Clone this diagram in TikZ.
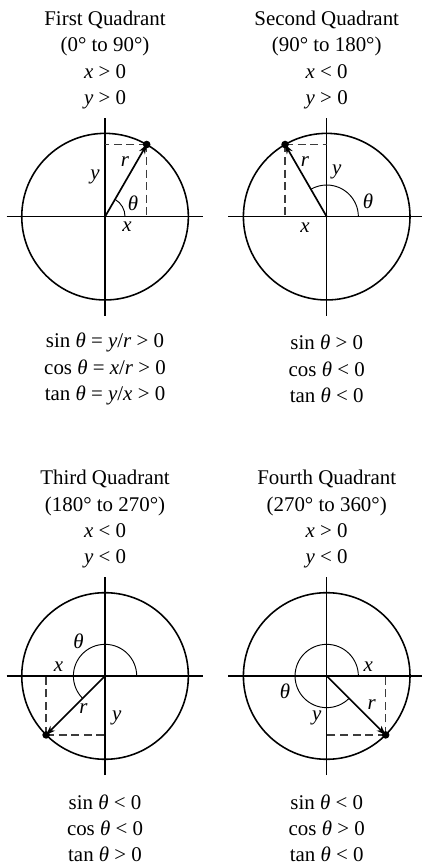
\documentclass[tikz,border=0pt]{standalone}
\usepackage{fontspec}
\setmainfont{Liberation Serif}
\usetikzlibrary{arrows.meta,calc}
\definecolor{grisGuia}{HTML}{3C3C3C}

\tikzset{
  eje/.style={line width=0.75pt},
  circulo/.style={line width=0.75pt},
  arco/.style={line width=0.45pt},
  guia/.style={grisGuia,line width=0.7pt,dash pattern=on 3.8pt off 2.2pt},
  radio/.style={line width=0.8pt,-{Stealth[length=4.5pt,width=3.2pt]}},
  texto/.style={align=center,inner sep=0pt,font=\fontsize{10}{12.6}\selectfont},
  etiq/.style={inner sep=0pt,font=\fontsize{10}{12}\selectfont\itshape}
}

\begin{document}
\begin{tikzpicture}[scale=1.4,>=Stealth]
  \useasboundingbox (0,0) rectangle (5.054,-10.372);
  % primer cuadrante
  \begin{scope}[shift={(1.261,-2.601)}]
    \coordinate (O1) at (0,0);
    \coordinate (P1) at (60:1);
    \draw[circulo] (O1) circle (1);
    \draw[eje] (-1.18,0) -- (1.18,0);
    \draw[eje] (0,-1.19) -- (0,1.19);
    \draw[guia] (P1) -- (P1 |- O1);
    \draw[guia] (P1) -- (O1 |- P1);
    \draw[arco] (0.24,0) arc (0:60:0.24);
    \draw[radio] (O1) -- (P1);
    \fill (P1) circle (1.3pt);
    \node[etiq] (th1) at (0.336,0.164) {θ};
    \node[etiq] (r1) at (0.24,0.657) {r};
    \node[etiq] (y1) at (-0.12,0.477) {y};
    \node[etiq] (x1) at (0.264,-0.124) {x};
    \node[texto] (t1) at (0,1.88)
      {First Quadrant\\(0° to 90°)\\\textit{x} > 0\\\textit{y} > 0};
    \node[texto] (f1) at (0,-1.829)
      {sin \textit{θ} = \textit{y}/\textit{r} > 0\\cos \textit{θ} = \textit{x}/\textit{r} > 0\\tan \textit{θ} = \textit{y}/\textit{x} > 0};
  \end{scope}
  % segundo cuadrante
  \begin{scope}[shift={(3.922,-2.601)}]
    \coordinate (O2) at (0,0);
    \coordinate (P2) at (120:1);
    \draw[circulo] (O2) circle (1);
    \draw[eje] (-1.18,0) -- (1.18,0);
    \draw[eje] (0,-1.19) -- (0,1.19);
    \draw[guia] (P2) -- (P2 |- O2);
    \draw[guia] (P2) -- (O2 |- P2);
    \draw[arco] (0.38,0) arc (0:120:0.38);
    \draw[radio] (O2) -- (P2);
    \fill (P2) circle (1.3pt);
    \node[etiq] (th2) at (0.496,0.18) {θ};
    \node[etiq] (r2) at (-0.26,0.657) {r};
    \node[etiq] (y2) at (0.12,0.54) {y};
    \node[etiq] (x2) at (-0.26,-0.136) {x};
    \node[texto] (t2) at (0,1.88)
      {Second Quadrant\\(90° to 180°)\\\textit{x} < 0\\\textit{y} > 0};
    \node[texto] (f2) at (0,-1.829)
      {sin \textit{θ} > 0\\cos \textit{θ} < 0\\tan \textit{θ} < 0};
  \end{scope}
  % tercer cuadrante
  \begin{scope}[shift={(1.261,-8.115)}]
    \coordinate (O3) at (0,0);
    \coordinate (P3) at (225:1);
    \draw[circulo] (O3) circle (1);
    \draw[eje] (-1.18,0) -- (1.18,0);
    \draw[eje] (0,-1.19) -- (0,1.19);
    \draw[guia] (P3) -- (P3 |- O3);
    \draw[guia] (P3) -- (O3 |- P3);
    \draw[arco] (0.38,0) arc (0:225:0.38);
    \draw[radio] (O3) -- (P3);
    \fill (P3) circle (1.3pt);
    \node[etiq] (th3) at (-0.32,0.412) {θ};
    \node[etiq] (r3) at (-0.26,-0.388) {r};
    \node[etiq] (y3) at (0.14,-0.508) {y};
    \node[etiq] (x3) at (-0.56,0.112) {x};
    \node[texto] (t3) at (0,1.88)
      {Third Quadrant\\(180° to 270°)\\\textit{x} < 0\\\textit{y} < 0};
    \node[texto] (f3) at (0,-1.829)
      {sin \textit{θ} < 0\\cos \textit{θ} < 0\\tan \textit{θ} > 0};
  \end{scope}
  % cuarto cuadrante
  \begin{scope}[shift={(3.922,-8.115)}]
    \coordinate (O4) at (0,0);
    \coordinate (P4) at (315:1);
    \draw[circulo] (O4) circle (1);
    \draw[eje] (-1.18,0) -- (1.18,0);
    \draw[eje] (0,-1.19) -- (0,1.19);
    \draw[guia] (P4) -- (P4 |- O4);
    \draw[guia] (P4) -- (O4 |- P4);
    \draw[arco] (0.38,0) arc (0:315:0.38);
    \draw[radio] (O4) -- (P4);
    \fill (P4) circle (1.3pt);
    \node[etiq] (th4) at (-0.5,-0.188) {θ};
    \node[etiq] (r4) at (0.54,-0.348) {r};
    \node[etiq] (y4) at (-0.12,-0.508) {y};
    \node[etiq] (x4) at (0.5,0.112) {x};
    \node[texto] (t4) at (0,1.88)
      {Fourth Quadrant\\(270° to 360°)\\\textit{x} > 0\\\textit{y} < 0};
    \node[texto] (f4) at (0,-1.829)
      {sin \textit{θ} < 0\\cos \textit{θ} > 0\\tan \textit{θ} < 0};
  \end{scope}
\end{tikzpicture}
\end{document}
